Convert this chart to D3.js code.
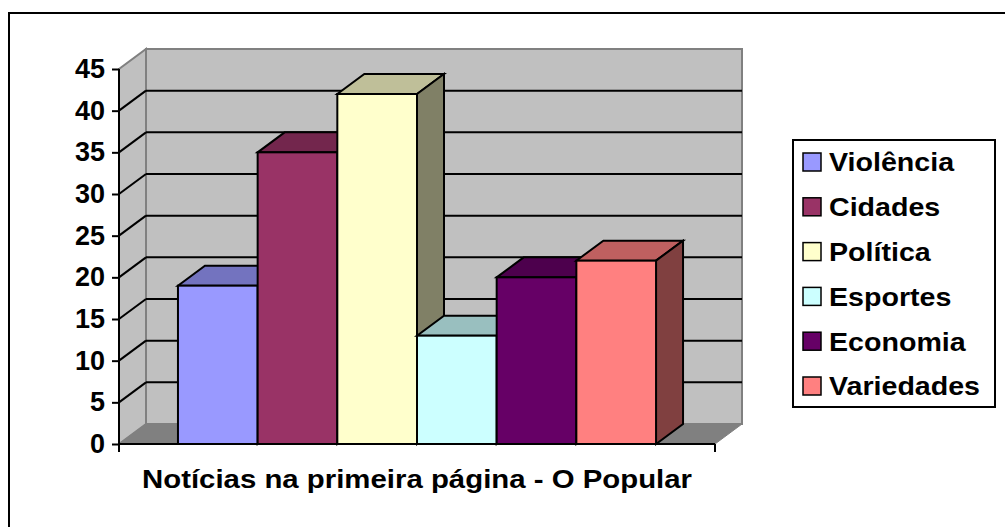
<!DOCTYPE html>
<html>
<head>
<meta charset="utf-8">
<script src="https://cdn.jsdelivr.net/npm/d3@7"></script>
<style>
  body { margin: 0; background: #fff; }
  svg text { font-family: "Liberation Sans", Arial, sans-serif; font-weight: bold; }
</style>
</head>
<body>
<svg id="chart" width="1005" height="527"></svg>
<script>
// noticias na primeira pagina - bar chart "3D" like excel

var categories = ['Violência', 'Cidades', 'Política', 'Esportes', 'Economia', 'Variedades'];
var values = [19, 35, 42, 13, 20, 22];
var colors = ['#9999FF', '#993366', '#FFFFCC', '#CCFFFF', '#660066', '#FF8080'];
var tickValues = [0, 5, 10, 15, 20, 25, 30, 35, 40, 45];
var title = 'Notícias na primeira página - O Popular';

var svg = d3.select('#chart');
var dx = 27, dy = -20; // depth offset

// frame round the whole thing
svg.append('rect')
    .attr('x', 9).attr('y', 13)
    .attr('width', 1100).attr('height', 600)
    .attr('fill', 'none').attr('stroke', '#000').attr('stroke-width', 2);

var y = d3.scaleLinear().domain([0, 45]).range([444, 69]);
var x = d3.scaleBand().domain(categories).range([119, 715])
    .paddingInner(0).paddingOuter(0.74);

var x0 = 119, x1 = 715;
var yTop = y(45), yBot = y(0);

function pts(p) { return p.map(function(d) { return d.join(','); }).join(' '); }
function shade(c, k) {
    var r = d3.rgb(c);
    return d3.rgb(r.r * k, r.g * k, r.b * k).formatHex();
}

// walls + floor
svg.append('polygon') // back wall
    .attr('points', pts([[x0 + dx, yTop + dy], [x1 + dx, yTop + dy], [x1 + dx, yBot + dy], [x0 + dx, yBot + dy]]))
    .attr('fill', '#C0C0C0').attr('stroke', '#808080').attr('stroke-width', 2);
svg.append('polygon') // side wall
    .attr('points', pts([[x0, yBot], [x0, yTop], [x0 + dx, yTop + dy], [x0 + dx, yBot + dy]]))
    .attr('fill', '#C0C0C0').attr('stroke', '#808080').attr('stroke-width', 2);
svg.append('polygon') // floor
    .attr('points', pts([[x0, yBot], [x1, yBot], [x1 + dx, yBot + dy], [x0 + dx, yBot + dy]]))
    .attr('fill', '#808080').attr('stroke', '#808080').attr('stroke-width', 1);

// gridlines
var grid = tickValues.filter(function(v) { return v > 0 && v < 45; });
svg.selectAll('.gback').data(grid).enter().append('line')
    .attr('x1', x0 + dx).attr('x2', x1 + dx)
    .attr('y1', function(d) { return y(d) + dy; })
    .attr('y2', function(d) { return y(d) + dy; })
    .attr('stroke', '#000').attr('stroke-width', 2);
svg.selectAll('.gside').data(grid).enter().append('line')
    .attr('x1', x0).attr('x2', x0 + dx)
    .attr('y1', function(d) { return y(d); })
    .attr('y2', function(d) { return y(d) + dy; })
    .attr('stroke', '#000').attr('stroke-width', 2);

// bars
var data = categories.map(function(c, i) { return {name: c, value: values[i], color: colors[i]}; });
var bars = svg.selectAll('g.bar').data(data).enter().append('g').attr('class', 'bar');
bars.each(function(d) {
    var g = d3.select(this);
    var l = x(d.name), r = l + x.bandwidth(), t = y(d.value), b = y(0);
    g.append('polygon') // top
        .attr('points', pts([[l, t], [r, t], [r + dx, t + dy], [l + dx, t + dy]]))
        .attr('fill', shade(d.color, 0.75));
    g.append('polygon') // side
        .attr('points', pts([[r, t], [r + dx, t + dy], [r + dx, b + dy], [r, b]]))
        .attr('fill', shade(d.color, 0.5));
    g.append('rect') // front
        .attr('x', l).attr('y', t).attr('width', r - l).attr('height', b - t)
        .attr('fill', d.color);
    g.selectAll('*').attr('stroke', '#000').attr('stroke-width', 2).attr('stroke-linejoin', 'miter');
});

// y axis
var yAxis = d3.axisLeft(y).tickValues(tickValues).tickSize(7).tickPadding(7);
var ya = svg.append('g').attr('transform', 'translate(' + x0 + ',0)').call(yAxis);
ya.select('.domain').attr('stroke', '#000').attr('stroke-width', 2).attr('d', 'M0,' + (yBot + 8) + 'V' + yTop);
ya.selectAll('.tick line').attr('stroke', '#000').attr('stroke-width', 2);
ya.selectAll('.tick text').attr('font-size', 27).attr('fill', '#000')
    .style('font-family', '"Liberation Sans", Arial, sans-serif').style('font-weight', 'bold');

// category axis
svg.append('line').attr('x1', x0).attr('x2', x1).attr('y1', yBot).attr('y2', yBot)
    .attr('stroke', '#000').attr('stroke-width', 2);
svg.append('line').attr('x1', x1).attr('x2', x1).attr('y1', yBot).attr('y2', yBot + 8)
    .attr('stroke', '#000').attr('stroke-width', 2);

// title
svg.append('text')
    .attr('transform', 'translate(' + ((x0 + x1) / 2) + ',488) scale(1.13,1)')
    .attr('text-anchor', 'middle').attr('font-size', 26).attr('fill', '#000')
    .text(title);

// legend
var legend = svg.append('g');
legend.append('rect').attr('x', 793).attr('y', 140).attr('width', 202).attr('height', 267)
    .attr('fill', '#fff').attr('stroke', '#000').attr('stroke-width', 2);
var items = legend.selectAll('g.item').data(data).enter().append('g')
    .attr('transform', function(d, i) { return 'translate(803,' + (162 + i * 44.8) + ')'; });
items.append('rect').attr('x', 0).attr('y', -9).attr('width', 18).attr('height', 18)
    .attr('fill', function(d) { return d.color; })
    .attr('stroke', '#000').attr('stroke-width', 1.5);
items.append('text')
    .attr('transform', 'translate(26,0) scale(1.1,1)')
    .attr('dy', '0.36em').attr('font-size', 26).attr('fill', '#000')
    .text(function(d) { return d.name; });
</script>
</body>
</html>
